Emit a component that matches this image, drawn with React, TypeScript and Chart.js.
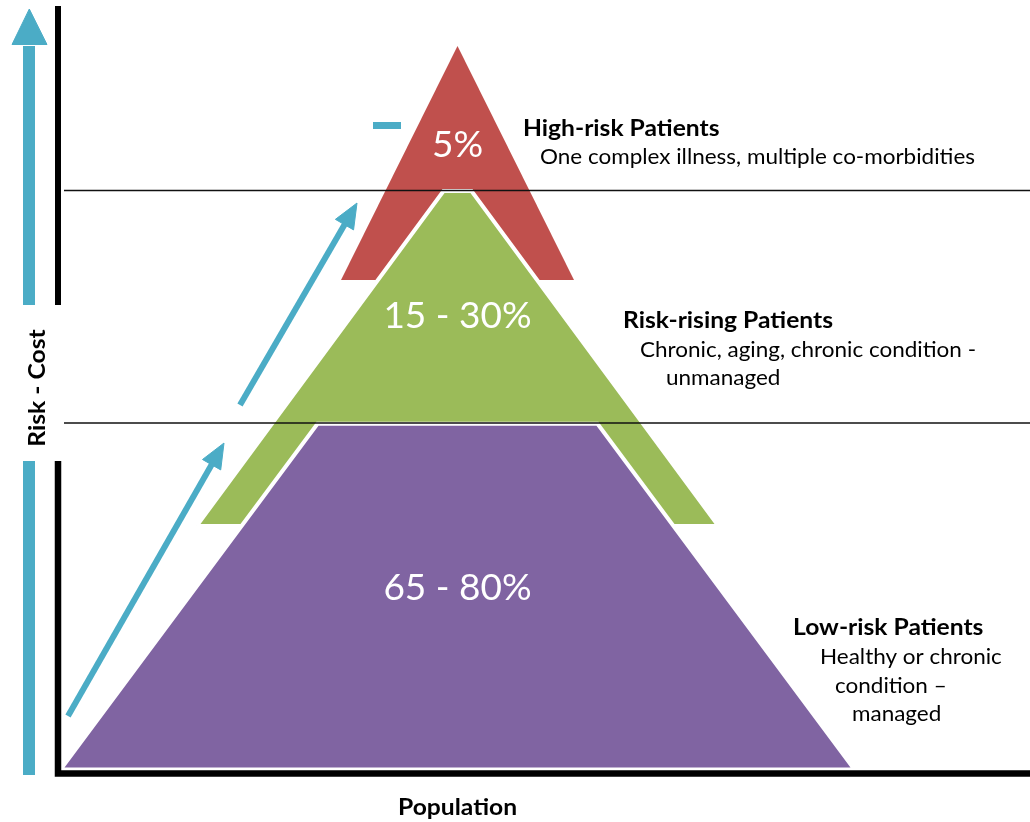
import React, { useEffect, useRef } from "react";
import { Chart, registerables } from "chart.js";

Chart.register(...registerables);

// ---- Data (diagram units: x = population axis 0..1030, y = risk–cost axis 0..822 top-down) ----
const tierNames = ["High-risk Patients", "Risk-rising Patients", "Low-risk Patients"];
const tierShares = ["5%", "15 - 30%", "65 - 80%"];
const tierDescriptions = [
  ["One complex illness, multiple co-morbidities"],
  ["Chronic, aging, chronic condition -", "unmanaged"],
  ["Healthy or chronic", "condition \u2013", "managed"],
];
const tierTopY = [46, 191, 423.7];
const tierBottomY = [280, 526, 769.5];
const tierTopHalf = [0, 14, 140];
const tierBottomHalf = [116.5, 261, 397];
const pyramidCenter = 457.5;

const axisLabels = ["Risk - Cost", "Population"];
const bandLevels = [190.5, 423];

// diagonal trend arrows: [tailX, tailY, tipX, tipY]
const trendArrows = [
  [68, 716, 224, 443],
  [240, 405, 357, 203],
];

// ---- Styles ----
const tierColors = ["#C0504D", "#9BBB59", "#8064A2"];
const BLUE = "#4BACC6";
const FONT = "Lato, 'Open Sans', sans-serif";
const BOLD_SIZE = 22;
const BOLD_STRETCH = 1.12;
const REG_SIZE = 21;
const REG_STRETCH = 1.07;

const shareLabelPos = [
  [457.5, 157],
  [457.5, 328],
  [457.5, 600],
];
const nameLabelPos = [
  [523, 136],
  [623, 328],
  [793, 635],
];
const descLabelPos = [
  [[540, 164]],
  [[640, 357], [666, 385]],
  [[820, 664], [835, 693], [852, 721]],
];

function trapezoid(i: number) {
  const c = pyramidCenter;
  const pts = [
    { x: c - tierBottomHalf[i], y: tierBottomY[i] },
    { x: c - tierTopHalf[i], y: tierTopY[i] },
    { x: c + tierTopHalf[i], y: tierTopY[i] },
    { x: c + tierBottomHalf[i], y: tierBottomY[i] },
  ];
  return [...pts, pts[0]];
}

function arrowParts(a: number[], headLen: number, headHalf: number) {
  const [tx, ty, hx, hy] = a;
  const dx = hx - tx;
  const dy = hy - ty;
  const len = Math.hypot(dx, dy);
  const ux = dx / len;
  const uy = dy / len;
  const bx = hx - ux * headLen;
  const by = hy - uy * headLen;
  const px = -uy;
  const py = ux;
  const shaft = [
    { x: tx, y: ty },
    { x: bx + ux * 2, y: by + uy * 2 },
  ];
  const head = [
    { x: bx + px * headHalf, y: by + py * headHalf },
    { x: hx, y: hy },
    { x: bx - px * headHalf, y: by - py * headHalf },
    { x: bx + px * headHalf, y: by + py * headHalf },
  ];
  return { shaft, head };
}

const base = {
  showLine: true,
  pointRadius: 0,
  pointHoverRadius: 0,
  tension: 0,
  borderCapStyle: "butt",
  borderJoinStyle: "miter",
};

function drawText(
  ctx: CanvasRenderingContext2D,
  text: string,
  x: number,
  y: number,
  align: CanvasTextAlign,
  stretch: number
) {
  ctx.save();
  ctx.translate(x, y);
  ctx.scale(stretch, 1);
  ctx.textAlign = align;
  ctx.fillText(text, 0, 0);
  ctx.restore();
}

export default function App() {
  const ref = useRef<HTMLCanvasElement>(null);

  useEffect(() => {
    if (!ref.current) return;
    const datasets: any[] = [];

    // horizontal band separators
    bandLevels.forEach((lv) =>
      datasets.push({
        ...base,
        data: [
          { x: 64, y: lv },
          { x: 1030, y: lv },
        ],
        borderColor: "#111",
        borderWidth: 1.3,
        fill: false,
        order: 0,
      })
    );

    // black axes
    datasets.push({
      ...base,
      data: [
        { x: 58, y: 6 },
        { x: 58, y: 305 },
      ],
      borderColor: "#000",
      borderWidth: 6,
      fill: false,
      order: 1,
    });
    datasets.push({
      ...base,
      data: [
        { x: 58, y: 461 },
        { x: 58, y: 773.5 },
        { x: 1030, y: 773.5 },
      ],
      borderColor: "#000",
      borderWidth: 6.5,
      fill: false,
      order: 1,
    });

    // big vertical risk arrow
    datasets.push({
      ...base,
      data: [
        { x: 29, y: 46 },
        { x: 29, y: 305 },
      ],
      borderColor: BLUE,
      borderWidth: 12,
      fill: false,
      order: 2,
    });
    datasets.push({
      ...base,
      data: [
        { x: 29, y: 461 },
        { x: 29, y: 775 },
      ],
      borderColor: BLUE,
      borderWidth: 12,
      fill: false,
      order: 2,
    });
    datasets.push({
      ...base,
      data: [
        { x: 12, y: 44.5 },
        { x: 29.3, y: 9 },
        { x: 47, y: 44.5 },
        { x: 12, y: 44.5 },
      ],
      borderColor: BLUE,
      backgroundColor: BLUE,
      borderWidth: 1,
      fill: "shape",
      order: 2,
    });
    // small dash
    datasets.push({
      ...base,
      data: [
        { x: 373, y: 125.5 },
        { x: 401, y: 125.5 },
      ],
      borderColor: BLUE,
      borderWidth: 7,
      fill: false,
      order: 2,
    });

    trendArrows.forEach((a) => {
      const { shaft, head } = arrowParts(a, 25, 10.5);
      datasets.push({
        ...base,
        data: shaft,
        borderColor: BLUE,
        borderWidth: 6,
        fill: false,
        order: 2,
      });
      datasets.push({
        ...base,
        data: head,
        borderColor: BLUE,
        backgroundColor: BLUE,
        borderWidth: 1,
        fill: "shape",
        order: 2,
      });
    });

    // pyramid tiers (red at back, purple on top)
    tierNames.forEach((_, i) => {
      datasets.push({
        ...base,
        data: trapezoid(i),
        backgroundColor: tierColors[i],
        borderColor: i === 0 ? "rgba(0,0,0,0)" : "#ffffff",
        borderWidth: i === 0 ? 1 : 4,
        fill: "shape",
        order: 5 - i,
      });
    });

    const textPlugin = {
      id: "diagramText",
      afterDatasetsDraw(chart: any) {
        const { ctx } = chart;
        const xs = chart.scales.x;
        const ys = chart.scales.y;
        const px = (v: number) => xs.getPixelForValue(v);
        const py = (v: number) => ys.getPixelForValue(v);
        ctx.save();
        ctx.textBaseline = "alphabetic";
        // share labels
        ctx.fillStyle = "#ffffff";
        ctx.font = `400 37px ${FONT}`;
        tierShares.forEach((s, i) => {
          drawText(ctx, s, px(shareLabelPos[i][0]), py(shareLabelPos[i][1]), "center", 1);
        });
        // tier names and descriptions
        ctx.fillStyle = "#000";
        tierNames.forEach((n, i) => {
          ctx.font = `700 ${BOLD_SIZE}px ${FONT}`;
          drawText(ctx, n, px(nameLabelPos[i][0]), py(nameLabelPos[i][1]), "left", BOLD_STRETCH);
          ctx.font = `400 ${REG_SIZE}px ${FONT}`;
          tierDescriptions[i].forEach((d, j) => {
            drawText(ctx, d, px(descLabelPos[i][j][0]), py(descLabelPos[i][j][1]), "left", REG_STRETCH);
          });
        });
        // axis titles
        ctx.font = `700 ${BOLD_SIZE}px ${FONT}`;
        drawText(ctx, axisLabels[1], px(457.5), py(815), "center", BOLD_STRETCH);
        ctx.save();
        ctx.translate(px(44.5), py(388));
        ctx.rotate(-Math.PI / 2);
        drawText(ctx, axisLabels[0], 0, 0, "center", BOLD_STRETCH);
        ctx.restore();
        ctx.restore();
      },
    };

    const chart = new Chart(ref.current, {
      type: "scatter",
      data: { datasets },
      options: {
        animation: false,
        responsive: false,
        devicePixelRatio: 1,
        events: [],
        layout: { padding: 0 },
        plugins: { legend: { display: false }, tooltip: { enabled: false } },
        scales: {
          x: { type: "linear", min: 0, max: 1030, display: false },
          y: { type: "linear", min: 0, max: 822, reverse: true, display: false },
        },
      },
      plugins: [textPlugin],
    } as any);
    return () => chart.destroy();
  }, []);

  return (
    <div style={{ position: "absolute", left: 0, top: 0, width: 1030, height: 822, background: "#fff" }}>
      <canvas ref={ref} width={1030} height={822} />
    </div>
  );
}
